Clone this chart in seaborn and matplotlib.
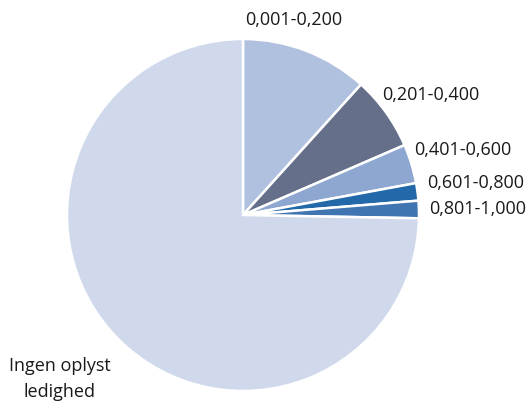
import matplotlib
matplotlib.use("Agg")
import matplotlib.pyplot as plt
import seaborn as sns

# Data (andele aflæst fra figuren, i procent)
labels = ["0,001-0,200", "0,201-0,400", "0,401-0,600", "0,601-0,800", "0,801-1,000", "Ingen oplyst\nledighed"]
values = [11.7, 6.8, 3.6, 1.6, 1.6, 74.7]
colors = ["#b0c1df", "#656f8a", "#8ea7d1", "#2368a8", "#4075b1", "#d0d9eb"]

# Label-placering (data-enheder, radius = 1)
label_x = [0.01, 0.79, 0.97, 1.045, 1.057, -1.04]
label_y = [1.108, 0.68, 0.37, 0.18, 0.034, -0.93]
label_ha = ["left", "left", "left", "left", "left", "center"]

sns.set_theme(style="white")
plt.rcParams["font.family"] = ["Open Sans", "DejaVu Sans"]

fig = plt.figure(figsize=(5.29, 4.05), dpi=100)
ax = fig.add_axes([0, 0, 1, 1])
ax.pie(values, colors=sns.color_palette(colors), startangle=90, counterclock=False,
       radius=1, wedgeprops=dict(edgecolor="white", linewidth=1.8))

for lab, x, y, ha in zip(labels, label_x, label_y, label_ha):
    ax.text(x, y, lab, ha=ha, va="center", fontsize=13, color="#1a1a1a", linespacing=1.55)

ax.set_xlim(-243 / 176, (529 - 243) / 176)
ax.set_ylim(-(405 - 215) / 176, 215 / 176)
ax.set_aspect("auto")
ax.axis("off")

fig.savefig("out.png", dpi=100)
